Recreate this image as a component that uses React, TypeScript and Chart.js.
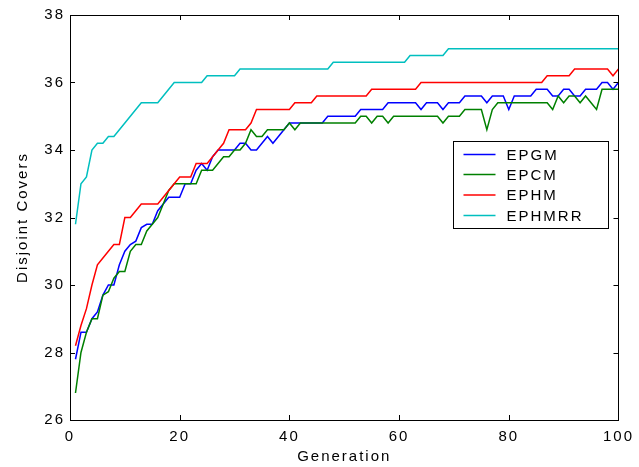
import React, { useEffect, useRef } from "react";
import { Chart, registerables } from "chart.js";

Chart.register(...registerables);

// Generations 1..100
const generations: number[] = Array.from({ length: 100 }, (_, i) => i + 1);

const xTicks = [0, 20, 40, 60, 80, 100];
const yTicks = [26, 28, 30, 32, 34, 36, 38];

const seriesNames = ["EPGM", "EPCM", "EPHM", "EPHMRR"];
const seriesColors = ["#0000ff", "#008000", "#ff0000", "#00bfbf"];

const epgm: number[] = [
  27.8, 28.6, 28.6, 29.0, 29.2, 29.7, 30.0, 30.0, 30.6, 31.0,
  31.2, 31.3, 31.7, 31.8, 31.8, 32.2, 32.4, 32.6, 32.6, 32.6,
  33.0, 33.0, 33.4, 33.6, 33.4, 33.8, 34.0, 34.0, 34.0, 34.0,
  34.2, 34.2, 34.0, 34.0, 34.2, 34.4, 34.2, 34.4, 34.6, 34.8,
  34.8, 34.8, 34.8, 34.8, 34.8, 34.8, 35.0, 35.0, 35.0, 35.0,
  35.0, 35.0, 35.2, 35.2, 35.2, 35.2, 35.2, 35.4, 35.4, 35.4,
  35.4, 35.4, 35.4, 35.2, 35.4, 35.4, 35.4, 35.2, 35.4, 35.4,
  35.4, 35.6, 35.6, 35.6, 35.6, 35.4, 35.6, 35.6, 35.6, 35.2,
  35.6, 35.6, 35.6, 35.6, 35.8, 35.8, 35.8, 35.6, 35.6, 35.8,
  35.8, 35.6, 35.6, 35.8, 35.8, 35.8, 36.0, 36.0, 35.8, 36.0,
];

const epcm: number[] = [
  26.8, 28.0, 28.6, 29.0, 29.0, 29.7, 29.8, 30.2, 30.4, 30.4,
  31.0, 31.2, 31.2, 31.6, 31.8, 32.0, 32.4, 32.8, 33.0, 33.0,
  33.0, 33.0, 33.0, 33.4, 33.4, 33.4, 33.6, 33.8, 33.8, 34.0,
  34.0, 34.2, 34.6, 34.4, 34.4, 34.6, 34.6, 34.6, 34.6, 34.8,
  34.6, 34.8, 34.8, 34.8, 34.8, 34.8, 34.8, 34.8, 34.8, 34.8,
  34.8, 34.8, 35.0, 35.0, 34.8, 35.0, 35.0, 34.8, 35.0, 35.0,
  35.0, 35.0, 35.0, 35.0, 35.0, 35.0, 35.0, 34.8, 35.0, 35.0,
  35.0, 35.2, 35.2, 35.2, 35.2, 34.6, 35.2, 35.4, 35.4, 35.4,
  35.4, 35.4, 35.4, 35.4, 35.4, 35.4, 35.4, 35.2, 35.6, 35.4,
  35.6, 35.6, 35.4, 35.6, 35.4, 35.2, 35.8, 35.8, 35.8, 35.8,
];

const ephm: number[] = [
  28.2, 28.8, 29.3, 30.0, 30.6, 30.8, 31.0, 31.2, 31.2, 32.0,
  32.0, 32.2, 32.4, 32.4, 32.4, 32.4, 32.6, 32.8, 33.0, 33.2,
  33.2, 33.2, 33.6, 33.6, 33.6, 33.8, 34.0, 34.2, 34.6, 34.6,
  34.6, 34.6, 34.8, 35.2, 35.2, 35.2, 35.2, 35.2, 35.2, 35.2,
  35.4, 35.4, 35.4, 35.4, 35.6, 35.6, 35.6, 35.6, 35.6, 35.6,
  35.6, 35.6, 35.6, 35.6, 35.8, 35.8, 35.8, 35.8, 35.8, 35.8,
  35.8, 35.8, 35.8, 36.0, 36.0, 36.0, 36.0, 36.0, 36.0, 36.0,
  36.0, 36.0, 36.0, 36.0, 36.0, 36.0, 36.0, 36.0, 36.0, 36.0,
  36.0, 36.0, 36.0, 36.0, 36.0, 36.0, 36.2, 36.2, 36.2, 36.2,
  36.2, 36.4, 36.4, 36.4, 36.4, 36.4, 36.4, 36.4, 36.2, 36.4,
];

const ephmrr: number[] = [
  31.8, 33.0, 33.2, 34.0, 34.2, 34.2, 34.4, 34.4, 34.6, 34.8,
  35.0, 35.2, 35.4, 35.4, 35.4, 35.4, 35.6, 35.8, 36.0, 36.0,
  36.0, 36.0, 36.0, 36.0, 36.2, 36.2, 36.2, 36.2, 36.2, 36.2,
  36.4, 36.4, 36.4, 36.4, 36.4, 36.4, 36.4, 36.4, 36.4, 36.4,
  36.4, 36.4, 36.4, 36.4, 36.4, 36.4, 36.4, 36.6, 36.6, 36.6,
  36.6, 36.6, 36.6, 36.6, 36.6, 36.6, 36.6, 36.6, 36.6, 36.6,
  36.6, 36.8, 36.8, 36.8, 36.8, 36.8, 36.8, 36.8, 37.0, 37.0,
  37.0, 37.0, 37.0, 37.0, 37.0, 37.0, 37.0, 37.0, 37.0, 37.0,
  37.0, 37.0, 37.0, 37.0, 37.0, 37.0, 37.0, 37.0, 37.0, 37.0,
  37.0, 37.0, 37.0, 37.0, 37.0, 37.0, 37.0, 37.0, 37.0, 37.0,
];

const allSeries = [epgm, epcm, ephm, ephmrr];

const FONT_FAMILY = "'Liberation Sans', Arial, Helvetica, sans-serif";
const FONT_SIZE = 15;
const LETTER_SPACING = "2px";

const matlabPlugin = {
  id: "matlabDecor",
  beforeDraw(chart: any) {
    (chart.ctx as any).letterSpacing = LETTER_SPACING;
  },
  afterDraw(chart: any) {
    const ctx = chart.ctx as CanvasRenderingContext2D;
    const { left, right, top, bottom } = chart.chartArea;
    const xs = chart.scales.x;
    const ys = chart.scales.y;
    ctx.save();
    ctx.strokeStyle = "#000";
    ctx.lineWidth = 1;
    // box
    ctx.strokeRect(Math.round(left) + 0.5, Math.round(top) + 0.5, Math.round(right - left), Math.round(bottom - top));
    // inner ticks
    const tl = 5;
    ctx.beginPath();
    xTicks.forEach((v) => {
      const px = Math.round(xs.getPixelForValue(v)) + 0.5;
      ctx.moveTo(px, bottom);
      ctx.lineTo(px, bottom - tl);
      ctx.moveTo(px, top);
      ctx.lineTo(px, top + tl);
    });
    yTicks.forEach((v) => {
      const py = Math.round(ys.getPixelForValue(v)) + 0.5;
      ctx.moveTo(left, py);
      ctx.lineTo(left + tl, py);
      ctx.moveTo(right, py);
      ctx.lineTo(right - tl, py);
    });
    ctx.stroke();

    // legend
    const bx = Math.round(left + 383) + 0.5;
    const by = Math.round(top + 126) + 0.5;
    const bw = 155;
    const bh = 87;
    ctx.fillStyle = "#fff";
    ctx.fillRect(bx, by, bw, bh);
    ctx.strokeStyle = "#000";
    ctx.strokeRect(bx, by, bw, bh);
    const rows = [13, 33, 53.5, 74];
    (ctx as any).letterSpacing = LETTER_SPACING;
    ctx.font = `${FONT_SIZE}px ${FONT_FAMILY}`;
    ctx.textBaseline = "middle";
    ctx.textAlign = "left";
    seriesNames.forEach((name, i) => {
      const y = by + rows[i];
      ctx.strokeStyle = seriesColors[i];
      ctx.lineWidth = 1.5;
      ctx.beginPath();
      ctx.moveTo(bx + 10, y);
      ctx.lineTo(bx + 42, y);
      ctx.stroke();
      ctx.fillStyle = "#000";
      ctx.fillText(name, bx + 53, y + 1);
    });
    ctx.restore();
  },
};

export default function App() {
  const ref = useRef<HTMLCanvasElement>(null);
  useEffect(() => {
    if (!ref.current) return;
    const datasets = allSeries.map((s, i) => ({
      label: seriesNames[i],
      data: generations.map((g, j) => ({ x: g, y: s[j] })),
      borderColor: seriesColors[i],
      backgroundColor: seriesColors[i],
      borderWidth: 1.5,
      pointRadius: 0,
      tension: 0,
      fill: false,
      order: 3 - i,
    }));
    const tickFont = { family: FONT_FAMILY, size: FONT_SIZE };
    const chart = new Chart(ref.current, {
      type: "line",
      data: { datasets },
      options: {
        responsive: false,
        animation: false,
        events: [],
        layout: { padding: { left: 0, top: 15, right: 20, bottom: 0 } },
        plugins: { legend: { display: false }, tooltip: { enabled: false } },
        scales: {
          x: {
            type: "linear",
            min: 0,
            max: 100,
            afterBuildTicks: (s: any) => {
              s.ticks = xTicks.map((v) => ({ value: v }));
            },
            ticks: { color: "#000", font: tickFont, padding: 8, maxRotation: 0, autoSkip: false },
            grid: { display: false, drawTicks: false },
            border: { display: true, color: "#000", width: 1 },
            title: {
              display: true,
              text: "Generation",
              color: "#000",
              font: tickFont,
              padding: { top: 0, bottom: 1 },
            },
            afterFit: (s: any) => {
              s.height = 47;
            },
          },
          y: {
            type: "linear",
            min: 26,
            max: 38,
            afterBuildTicks: (s: any) => {
              s.ticks = yTicks.map((v) => ({ value: v }));
            },
            ticks: { color: "#000", font: tickFont, padding: 5, autoSkip: false },
            grid: { display: false, drawTicks: false },
            border: { display: true, color: "#000", width: 1 },
            title: {
              display: true,
              text: "Disjoint Covers",
              color: "#000",
              font: tickFont,
              padding: { top: 14, bottom: 0 },
            },
            afterFit: (s: any) => {
              s.width = 70;
            },
          },
        },
      } as any,
      plugins: [matlabPlugin],
    });
    return () => chart.destroy();
  }, []);
  return (
    <div style={{ position: "absolute", left: 0, top: 0, width: 639, height: 467, background: "#fff" }}>
      <canvas ref={ref} width={639} height={467} style={{ display: "block" }} />
    </div>
  );
}
